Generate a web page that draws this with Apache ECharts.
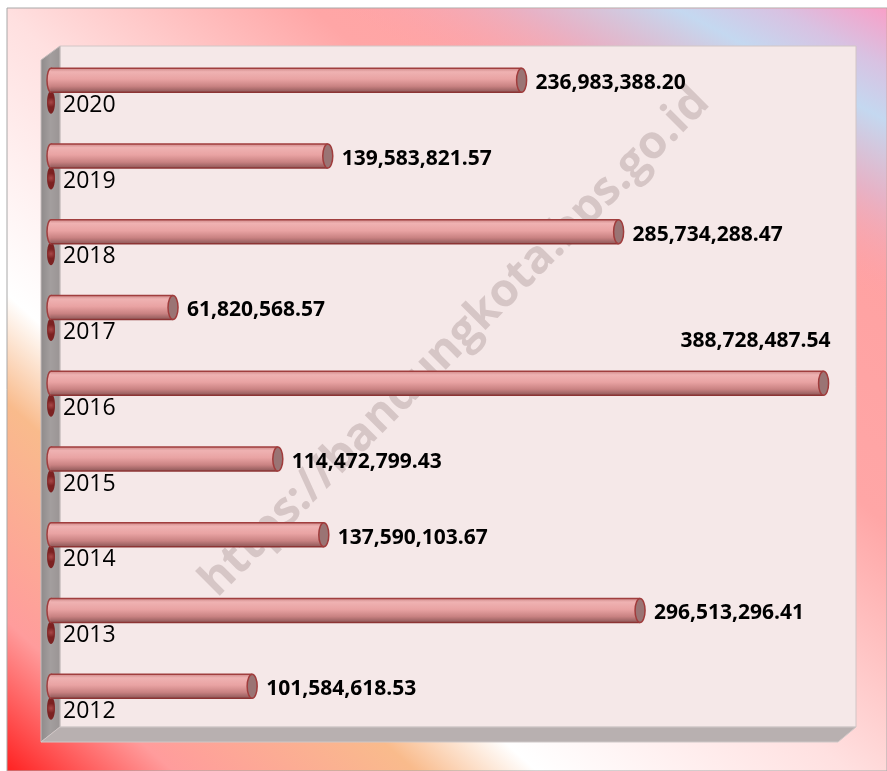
<!DOCTYPE html>
<html>
<head>
<meta charset="utf-8">
<script src="https://cdn.jsdelivr.net/npm/echarts@6/dist/echarts.min.js"></script>
<style>
  html, body { margin: 0; padding: 0; background: #fff; }
  #chart { width: 887px; height: 771px; }
</style>
</head>
<body>
<div id="chart"></div>
<script>
// tahun dan nilai
var years = ['2012', '2013', '2014', '2015', '2016', '2017', '2018', '2019', '2020']
var values = [101584618.53, 296513296.41, 137590103.67, 114472799.43, 388728487.54,
  61820568.57, 285734288.47, 139583821.57, 236983388.20]
var axisMax = 400000000
var watermark = 'https://bandungkota.bps.go.id'

function fmt(v) {
  return v.toLocaleString('en-US', { minimumFractionDigits: 2, maximumFractionDigits: 2 })
}

var chart = echarts.init(document.getElementById('chart'))
var maxVal = Math.max.apply(null, values)

var option = {
  animation: false,
  grid: { left: 55, top: 42.4, width: 796, height: 681.7, containLabel: false },
  xAxis: { type: 'value', min: 0, max: axisMax, show: false },
  yAxis: {
    type: 'category',
    data: years,
    axisLine: { show: false },
    axisTick: { show: false },
    splitLine: { show: false },
    // label tahun digambar di renderItem (di bawah batang)
    axisLabel: { show: false }
  },
  graphic: [
    // bingkai luar
    {
      type: 'rect', z: 0,
      shape: { x: 7, y: 8, width: 880, height: 763 },
      style: {
        stroke: '#a8a8a8', lineWidth: 1,
        fill: {
          type: 'linear', global: true, x: 0, y: 771, x2: 775, y2: -90,
          colorStops: [
            { offset: 0, color: '#ff1c1c' },
            { offset: 0.1, color: '#ff9c9c' },
            { offset: 0.24, color: '#f9bb8c' },
            { offset: 0.31, color: '#ffffff' },
            { offset: 0.49, color: '#ffe0e0' },
            { offset: 0.56, color: '#ffcaca' },
            { offset: 0.67, color: '#ffa6a6' },
            { offset: 1, color: '#ff9e9e' }
          ]
        }
      }
    },
    // pita biru di kanan atas
    {
      type: 'rect', z: 0, silent: true,
      shape: { x: 7.5, y: 8.5, width: 879, height: 762 },
      style: {
        fill: {
          type: 'linear', global: true, x: 887, y: 303, x2: 1009, y2: 74,
          colorStops: [
            { offset: 0, color: 'rgba(255,160,170,0)' },
            { offset: 0.35, color: 'rgba(228,180,202,0.9)' },
            { offset: 0.62, color: '#c4d8f0' },
            { offset: 0.8, color: '#d8c2e2' },
            { offset: 1, color: '#f8a0c8' }
          ]
        }
      }
    },
    // dinding belakang
    {
      type: 'rect', z: 0,
      shape: { x: 60, y: 46, width: 796, height: 681 },
      style: { fill: '#f5e8e8', stroke: '#d2c6c6', lineWidth: 1 }
    },
    // dinding kiri
    {
      type: 'polygon', z: 0,
      shape: { points: [[41, 60], [60, 46], [60, 727], [41, 742]] },
      style: {
        fill: { type: 'linear', x: 0, y: 0, x2: 1, y2: 0,
          colorStops: [{ offset: 0, color: '#8e8a8a' }, { offset: 0.5, color: '#a39e9e' }, { offset: 1, color: '#9a9494' }] },
        stroke: '#c4bcbc', lineWidth: 1
      }
    },
    // lantai
    {
      type: 'polygon', z: 0,
      shape: { points: [[41, 742], [60, 727], [856, 727], [838, 742]] },
      style: { fill: '#b8b0b0', stroke: '#cfc8c8', lineWidth: 1 }
    },
    // watermark
    {
      type: 'text', z: 1,
      x: 455, y: 342, rotation: Math.PI / 4,
      style: {
        text: watermark,
        fill: '#d6c6c6',
        font: 'bold 46px "Open Sans"',
        align: 'center',
        verticalAlign: 'middle'
      }
    }
  ],
  series: [
    {
      type: 'custom',
      z: 10,
      data: values.map(function (v, i) { return [v, i] }),
      encode: { x: 0, y: 1 },
      renderItem: function (params, api) {
        var v = api.value(0)
        var ci = api.value(1)
        var end = api.coord([v, ci])
        var start = api.coord([0, ci])
        var cy = end[1]
        var h = 24
        var rx = 5
        var x0 = start[0] - 8
        var ex = end[0] - rx
        var bodyFill = {
          type: 'linear', x: 0, y: 0, x2: 0, y2: 1,
          colorStops: [
            { offset: 0, color: '#cf8a8a' },
            { offset: 0.15, color: '#efb2b2' },
            { offset: 0.45, color: '#e9a3a3' },
            { offset: 0.75, color: '#c98282' },
            { offset: 1, color: '#8e5858' }
          ]
        }
        var above = v === maxVal
        return {
          type: 'group',
          children: [
            {
              type: 'ellipse',
              shape: { cx: x0 + 4, cy: cy + 22, rx: 4, ry: 11.5 },
              style: {
                fill: { type: 'radial', x: 0.5, y: 0.5, r: 0.6,
                  colorStops: [{ offset: 0, color: '#a84848' }, { offset: 1, color: '#7c2222' }] }
              }
            },
            {
              type: 'ellipse',
              shape: { cx: x0 + 4, cy: cy, rx: 4, ry: h / 2 },
              style: { fill: bodyFill, stroke: '#a03e3e', lineWidth: 1.5 }
            },
            {
              type: 'rect',
              shape: { x: x0 + 4, y: cy - h / 2, width: ex - x0 - 4, height: h },
              style: { fill: bodyFill }
            },
            {
              type: 'line',
              shape: { x1: x0 + 4, y1: cy - h / 2, x2: ex, y2: cy - h / 2 },
              style: { stroke: '#a03e3e', lineWidth: 1.5 }
            },
            {
              type: 'line',
              shape: { x1: x0 + 4, y1: cy + h / 2, x2: ex, y2: cy + h / 2 },
              style: { stroke: '#8c3434', lineWidth: 1.5 }
            },
            {
              type: 'ellipse',
              shape: { cx: ex, cy: cy, rx: rx, ry: h / 2 },
              style: { fill: '#9a7474', stroke: '#a03c3c', lineWidth: 1.5 }
            },
            {
              type: 'text',
              x: start[0] + 8,
              y: cy + 25,
              style: {
                text: years[ci],
                fill: '#000',
                font: '23px "Open Sans"',
                align: 'left',
                verticalAlign: 'middle'
              }
            },
            {
              type: 'text',
              x: above ? end[0] + 2 : end[0] + 9,
              y: above ? cy - 42 : cy + 3,
              style: {
                text: fmt(v),
                fill: '#000',
                font: 'bold 21px "Open Sans"',
                align: above ? 'right' : 'left',
                verticalAlign: 'middle'
              }
            }
          ]
        }
      }
    }
  ]
}

chart.setOption(option)
</script>
</body>
</html>
